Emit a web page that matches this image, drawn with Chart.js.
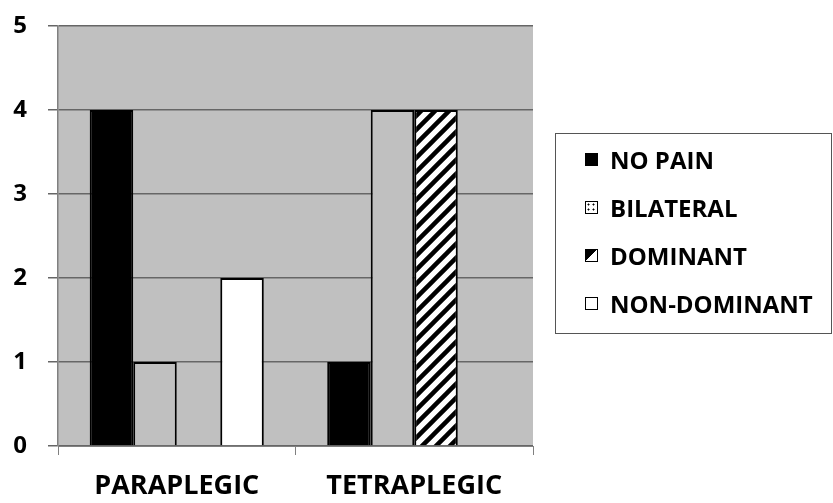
<!DOCTYPE html>
<html>
<head>
<meta charset="utf-8">
<script src="https://cdn.jsdelivr.net/npm/chart.js@4.4.1/dist/chart.umd.min.js"></script>
<style>
  html, body { margin: 0; padding: 0; background: #fff; }
  #wrap { position: relative; width: 833px; height: 503px; }
  #legend {
    position: absolute; left: 555px; top: 133px; width: 277px; height: 201px;
    box-sizing: border-box; border: 1px solid #555; padding: 1px 0 0 29px;
    font: bold 24px 'Open Sans', sans-serif; color: #000;
  }
  #legend .item { display: flex; align-items: center; height: 48px; white-space: nowrap; }
  #legend .sw { width: 13px; height: 13px; box-sizing: border-box; border: 1.5px solid #000; margin-right: 12px; }
</style>
</head>
<body>
<div id="wrap"><canvas id="painChart"></canvas><div id="legend"></div></div>
<script>
// values
const categories = ['PARAPLEGIC', 'TETRAPLEGIC'];
const seriesNames = ['NO PAIN', 'BILATERAL', 'DOMINANT', 'NON-DOMINANT'];
const noPain = [4, 1];
const bilateral = [1, 4];
const dominant = [0, 4];
const nonDominant = [2, 0];
const yMin = 0;
const yMax = 5;
const yStep = 1;

const FONT = "'Open Sans', 'DejaVu Sans', sans-serif";

function tile(size, draw) {
  const c = document.createElement('canvas');
  c.width = size;
  c.height = size;
  const g = c.getContext('2d');
  draw(g, size);
  return g.createPattern(c, 'repeat');
}

// diagonal "/" hatch used by DOMINANT
const hatch = tile(14, (g, s) => {
  g.fillStyle = '#fff';
  g.fillRect(0, 0, s, s);
  g.strokeStyle = '#000';
  g.lineWidth = 4.5;
  g.beginPath();
  g.moveTo(-2, s + 2); g.lineTo(s + 2, -2);
  g.moveTo(-2, 2); g.lineTo(2, -2);
  g.moveTo(s - 2, s + 2); g.lineTo(s + 2, s - 2);
  g.stroke();
});

// css look of the legend swatches
const swatchCss = [
  'background:#000',
  'background:#fff radial-gradient(circle, #000 0.8px, transparent 1.2px) 0 0 / 5px 5px',
  'background:linear-gradient(135deg, #000 0 50%, #fff 50% 100%)',
  'background:#fff'
];

const plotBackground = {
  id: 'plotBackground',
  beforeDraw(chart) {
    const { ctx, chartArea: a } = chart;
    ctx.save();
    ctx.fillStyle = '#c0c0c0';
    ctx.fillRect(a.left, a.top, a.right - a.left, a.bottom - a.top);
    ctx.restore();
  }
};

const chart = new Chart(document.getElementById('painChart'), {
  type: 'bar',
  data: {
    labels: categories,
    datasets: [
      { label: seriesNames[0], data: noPain, backgroundColor: '#000', borderColor: '#000', borderWidth: 2 },
      { label: seriesNames[1], data: bilateral, backgroundColor: '#c0c0c0', borderColor: '#000', borderWidth: 2 },
      { label: seriesNames[2], data: dominant, backgroundColor: hatch, borderColor: '#000', borderWidth: 2 },
      { label: seriesNames[3], data: nonDominant, backgroundColor: '#fff', borderColor: '#000', borderWidth: 2 }
    ]
  },
  options: {
    responsive: true,
    maintainAspectRatio: false,
    animation: false,
    layout: { padding: { left: 0, top: 26, right: 300, bottom: 0 } },
    datasets: {
      bar: { categoryPercentage: 0.733, barPercentage: 1, borderSkipped: 'start' }
    },
    scales: {
      x: {
        afterFit(s) { s.height = 57; },
        grid: { display: true, drawOnChartArea: false, drawTicks: true, tickLength: 9, offset: true, color: '#808080', lineWidth: 1 },
        border: { display: true, color: '#808080', width: 1 },
        ticks: { color: '#000', padding: 15, font: { family: FONT, weight: 'bold', size: 27 } }
      },
      y: {
        min: yMin,
        max: yMax,
        afterFit(s) { s.width = 58; s.paddingTop = 12; s.paddingBottom = 12; },
        grid: { color: '#666', lineWidth: 1.5, tickLength: 10, drawTicks: true },
        border: { display: true, color: '#808080', width: 1.5 },
        ticks: { stepSize: yStep, color: '#000', padding: 21, font: { family: FONT, weight: 'bold', size: 24 } }
      }
    },
    plugins: {
      tooltip: { enabled: false },
      legend: { display: false }
    }
  },
  plugins: [plotBackground]
});

// legend box on the right, built from the chart's own datasets
const legendEl = document.getElementById('legend');
chart.data.datasets.forEach((ds, i) => {
  const row = document.createElement('div');
  row.className = 'item';
  const sw = document.createElement('span');
  sw.className = 'sw';
  sw.style.cssText = swatchCss[i];
  const txt = document.createElement('span');
  txt.textContent = ds.label;
  row.appendChild(sw);
  row.appendChild(txt);
  legendEl.appendChild(row);
});
</script>
</body>
</html>
